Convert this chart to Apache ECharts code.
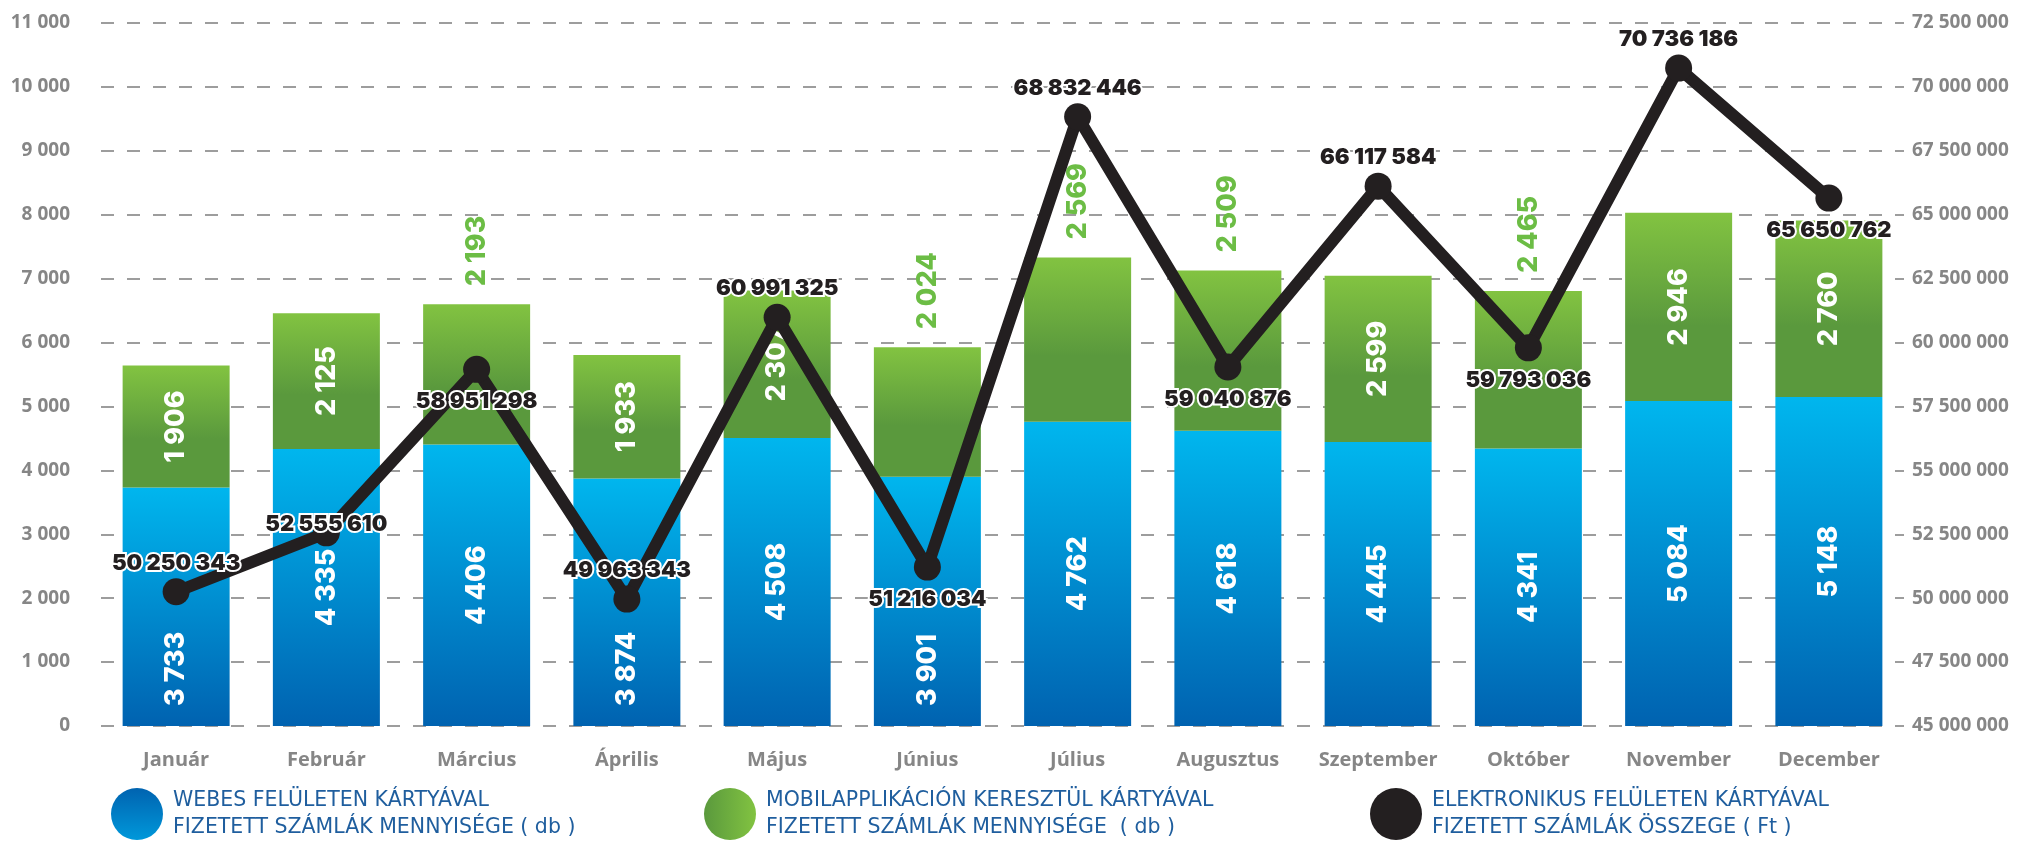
<!DOCTYPE html>
<html>
<head>
<meta charset="utf-8">
<script src="https://cdn.jsdelivr.net/npm/echarts@6/dist/echarts.min.js"></script>
<style>
html,body{margin:0;padding:0;background:#fff;}
#c{width:2029px;height:841px;}
</style>
</head>
<body>
<div id="c"></div>
<script>
// ---- data ----
const months = ['Január','Február','Március','Április','Május','Június','Július','Augusztus','Szeptember','Október','November','December'];
const webCount = [3733, 4335, 4406, 3874, 4508, 3901, 4762, 4618, 4445, 4341, 5084, 5148];
const mobileCount = [1906, 2125, 2193, 1933, 2307, 2024, 2569, 2509, 2599, 2465, 2946, 2760];
const totalAmount = [50250343, 52555610, 58951298, 49963343, 60991325, 51216034, 68832446, 59040876, 66117584, 59793036, 70736186, 65650762];
const seriesNames = [
  'WEBES FELÜLETEN KÁRTYÁVAL\nFIZETETT SZÁMLÁK MENNYISÉGE ( db )',
  'MOBILAPPLIKÁCIÓN KERESZTÜL KÁRTYÁVAL\nFIZETETT SZÁMLÁK MENNYISÉGE  ( db )',
  'ELEKTRONIKUS FELÜLETEN KÁRTYÁVAL\nFIZETETT SZÁMLÁK ÖSSZEGE ( Ft )'
];
// label placement keywords (style only)
const webLabelPlace = ['bottom','mid','mid','bottom','mid','bottom','mid','mid','mid','mid','mid','mid'];
const mobileLabelPlace = ['in','in','out','in','in','out','out','out','in','out','in','in'];
const lineLabelPlace = ['top','on','bottom','top','top','bottom','top','bottom','top','bottom','top','bottom'];

const fmt = v => String(v).replace(/\B(?=(\d{3})+(?!\d))/g, ' ');

const blueGrad = new echarts.graphic.LinearGradient(0,0,0,1,[{offset:0,color:'#00b6ee'},{offset:1,color:'#0062b0'}]);
const greenGrad = new echarts.graphic.LinearGradient(0,0,0,1,[{offset:0,color:'#82c341'},{offset:0.6,color:'#5a993d'},{offset:1,color:'#5a993d'}]);
const blueLegend = new echarts.graphic.LinearGradient(0,0,0,1,[{offset:0,color:'#0063b0'},{offset:1,color:'#0098da'}]);
const greenLegend = new echarts.graphic.LinearGradient(0,0,1,0,[{offset:0,color:'#5a993d'},{offset:1,color:'#82c341'}]);
const lineColor = '#231f20';

const barLabelBase = {show:true, rotate:90, color:'#fff', fontFamily:'Inter', fontWeight:800, fontSize:27, formatter:p=>fmt(p.value)};

const webData = webCount.map((v,i)=>{
  const lab = webLabelPlace[i]==='bottom'
    ? {position:'insideBottom', align:'left', verticalAlign:'middle', distance:20}
    : {position:'inside'};
  return {value:v, label:lab};
});
const mobileData = mobileCount.map((v,i)=>{
  const lab = mobileLabelPlace[i]==='out'
    ? {position:'top', align:'left', verticalAlign:'middle', distance:18, color:'#6cbd45'}
    : {position:'inside'};
  return {value:v, label:lab};
});
const lineData = totalAmount.map((v,i)=>{
  const p = lineLabelPlace[i];
  const lab = p==='on' ? {position:'top', distance:-16}
            : {position:p, distance: p==='top'?4:8};
  return {value:v, label:lab};
});

const legendBase = {top:787, itemWidth:62, itemHeight:52, padding:0, selectedMode:false, orient:'horizontal',
  textStyle:{color:'#1f5e9e', fontFamily:'DejaVu Sans', fontSize:20.5, lineHeight:27}};

const option = {
  animation:false,
  backgroundColor:'#fff',
  grid:{left:101, right:125, top:23, bottom:115},
  legend:[
    Object.assign({}, legendBase, {left:111, data:[{name:seriesNames[0], icon:'circle', itemStyle:{color:blueLegend, borderWidth:0}}]}),
    Object.assign({}, legendBase, {left:704, data:[{name:seriesNames[1], icon:'circle', itemStyle:{color:greenLegend, borderWidth:0}}]}),
    Object.assign({}, legendBase, {left:1370, data:[{name:seriesNames[2], icon:'circle', itemStyle:{color:lineColor, borderWidth:0}}]})
  ],
  xAxis:{
    type:'category', data:months,
    axisLine:{show:false}, axisTick:{show:false},
    axisLabel:{interval:0, color:'#868686', fontFamily:'Open Sans', fontWeight:'bold', fontSize:20, margin:24}
  },
  yAxis:[
    {type:'value', min:0, max:11000, interval:1000,
     axisLine:{show:false}, axisTick:{show:false},
     axisLabel:{color:'#868686', fontFamily:'Open Sans', fontWeight:'bold', fontSize:19, margin:31, formatter:fmt},
     splitLine:{show:true, lineStyle:{color:'#9d9d9d', width:2, type:[13,13]}}},
    {type:'value', min:45000000, max:72500000, interval:2500000,
     axisLine:{show:false}, axisTick:{show:false},
     axisLabel:{color:'#868686', fontFamily:'Open Sans', fontWeight:'bold', fontSize:19, margin:8, formatter:fmt},
     splitLine:{show:false}}
  ],
  series:[
    {name:seriesNames[0], type:'bar', stack:'cnt', barWidth:107, data:webData,
     itemStyle:{color:blueGrad}, label:barLabelBase, z:2},
    {name:seriesNames[1], type:'bar', stack:'cnt', barWidth:107, data:mobileData,
     itemStyle:{color:greenGrad}, label:barLabelBase, z:2},
    {name:seriesNames[2], type:'line', yAxisIndex:1, data:lineData,
     symbol:'circle', symbolSize:27,
     lineStyle:{color:lineColor, width:12}, itemStyle:{color:lineColor},
     label:{show:true, color:'#231f20', fontFamily:'Inter', fontWeight:900, fontSize:22,
       textBorderColor:'#fff', textBorderWidth:4, formatter:p=>fmt(p.value)},
     z:5}
  ]
};
const chart = echarts.init(document.getElementById('c'), null, {renderer:'canvas'});
chart.setOption(option);
</script>
</body>
</html>
